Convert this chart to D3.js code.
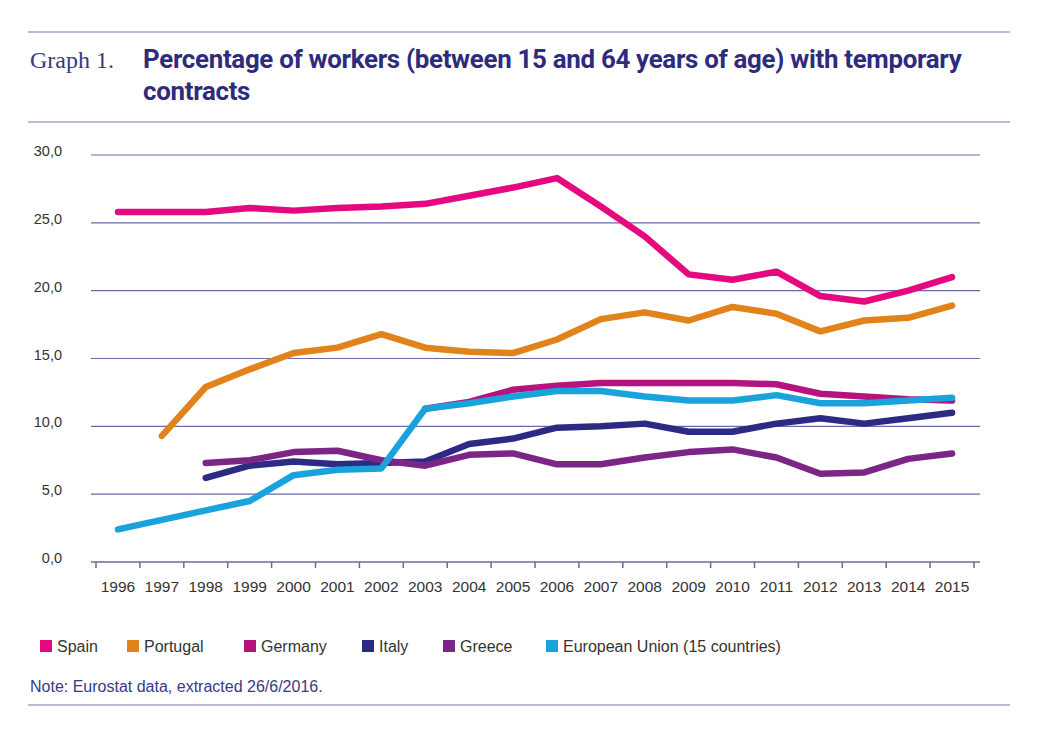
<!DOCTYPE html>
<html>
<head>
<meta charset="utf-8">
<script src="https://cdn.jsdelivr.net/npm/d3@7"></script>
<style>
  html, body { margin: 0; padding: 0; background: #fff; }
  svg { display: block; }
</style>
</head>
<body>
<svg id="chart" width="1039" height="733"></svg>
<script>
const years = ["1996","1997","1998","1999","2000","2001","2002","2003","2004","2005",
               "2006","2007","2008","2009","2010","2011","2012","2013","2014","2015"];
const yTicks = [0, 5, 10, 15, 20, 25, 30];

const spain    = [25.8, 25.8, 25.8, 26.1, 25.9, 26.1, 26.2, 26.4, 27.0, 27.6, 28.3, 26.2, 24.0, 21.2, 20.8, 21.4, 19.6, 19.2, 20.0, 21.0];
const portugal = [null, 9.3, 12.9, 14.2, 15.4, 15.8, 16.8, 15.8, 15.5, 15.4, 16.4, 17.9, 18.4, 17.8, 18.8, 18.3, 17.0, 17.8, 18.0, 18.9];
const germany  = [null, null, null, null, null, null, null, 11.3, 11.8, 12.7, 13.0, 13.2, 13.2, 13.2, 13.2, 13.1, 12.4, 12.2, 12.0, 11.9];
const italy    = [null, null, 6.2, 7.1, 7.4, 7.2, 7.3, 7.4, 8.7, 9.1, 9.9, 10.0, 10.2, 9.6, 9.6, 10.2, 10.6, 10.2, 10.6, 11.0];
const greece   = [null, null, 7.3, 7.5, 8.1, 8.2, 7.5, 7.1, 7.9, 8.0, 7.2, 7.2, 7.7, 8.1, 8.3, 7.7, 6.5, 6.6, 7.6, 8.0];
const eu15     = [2.4, 3.1, 3.8, 4.5, 6.4, 6.8, 6.9, 11.3, 11.7, 12.2, 12.6, 12.6, 12.2, 11.9, 11.9, 12.3, 11.7, 11.7, 11.9, 12.1];

const seriesNames  = ["Spain", "Portugal", "Germany", "Italy", "Greece", "European Union (15 countries)"];
const seriesValues = [spain, portugal, germany, italy, greece, eu15];
const seriesColors = ["#e4097f", "#e2821a", "#b5147f", "#2d2a84", "#7b2686", "#1aa2dc"];

const svg = d3.select("#chart");
const navy = "#2e2b7d";
const ruleColor = "#a7a5c8";
const gridColor = "#6b68a3";

// Header / footer rules
[32, 122, 705].forEach(yy => {
  svg.append("line").attr("x1", 28).attr("x2", 1010).attr("y1", yy).attr("y2", yy)
    .attr("stroke", ruleColor).attr("stroke-width", 1.5);
});

// Title
svg.append("text").attr("x", 30).attr("y", 68)
  .attr("font-family", "'Liberation Serif', 'DejaVu Serif', serif")
  .attr("font-size", 24).attr("fill", "#3a3888")
  .text("Graph 1.");

const t1 = svg.append("text").attr("x", 143).attr("y", 68)
  .attr("font-family", "Roboto, 'Liberation Sans', sans-serif")
  .attr("font-weight", 700).attr("font-size", 21).attr("fill", navy)
  .attr("letter-spacing", -0.3)
  .text("Percentage of workers (between 15 and 64 years of age) with temporary");
const t2 = svg.append("text").attr("x", 143).attr("y", 100)
  .attr("font-family", "Roboto, 'Liberation Sans', sans-serif")
  .attr("font-weight", 700).attr("font-size", 21).attr("fill", navy)
  .attr("letter-spacing", -0.3)
  .text("contracts");
const w1 = t1.node().getComputedTextLength();
const fs = 21 * 814 / w1;
t1.attr("font-size", fs);
t2.attr("font-size", fs);

// Scales
const x = d3.scaleBand().domain(years).range([96, 974]).padding(0);
const y = d3.scaleLinear().domain([0, 30]).range([562, 155]);

// Gridlines
svg.append("g").selectAll("line").data(yTicks.filter(d => d > 0)).join("line")
  .attr("x1", 91).attr("x2", 980)
  .attr("y1", d => y(d)).attr("y2", d => y(d))
  .attr("stroke", gridColor).attr("stroke-width", 1.2);

// Y labels
const fmt = d => d.toFixed(1).replace(".", ",");
svg.append("g").selectAll("text").data(yTicks).join("text")
  .attr("x", 62).attr("y", d => y(d) - 4)
  .attr("dy", "0.35em")
  .attr("text-anchor", "end")
  .attr("font-family", "'Liberation Sans', Arial, sans-serif")
  .attr("font-size", 14.5).attr("fill", "#333")
  .text(fmt);

// X axis line and ticks at band edges
svg.append("line").attr("x1", 91).attr("x2", 980).attr("y1", y(0)).attr("y2", y(0))
  .attr("stroke", gridColor).attr("stroke-width", 1.5);
const edges = years.map(d => x(d)).concat([x(years[years.length - 1]) + x.bandwidth()]);
svg.append("g").selectAll("line").data(edges).join("line")
  .attr("x1", d => d).attr("x2", d => d)
  .attr("y1", y(0)).attr("y2", y(0) + 6)
  .attr("stroke", gridColor).attr("stroke-width", 1.5);
svg.append("g").selectAll("text").data(years).join("text")
  .attr("x", d => x(d) + x.bandwidth() / 2).attr("y", 592)
  .attr("text-anchor", "middle")
  .attr("font-family", "'Liberation Sans', Arial, sans-serif")
  .attr("font-size", 15.5).attr("fill", "#333")
  .text(d => d);

// Lines
const line = d3.line()
  .defined(d => d.v !== null)
  .x(d => x(d.year) + x.bandwidth() / 2)
  .y(d => y(d.v));

seriesValues.forEach((vals, i) => {
  const data = years.map((yr, j) => ({ year: yr, v: vals[j] }));
  svg.append("path").datum(data)
    .attr("d", line)
    .attr("fill", "none")
    .attr("stroke", seriesColors[i])
    .attr("stroke-width", 6.5)
    .attr("stroke-linejoin", "round")
    .attr("stroke-linecap", "round");
});

// Legend
const legendX = [40, 127, 244, 362, 443, 546];
const lg = svg.append("g");
seriesNames.forEach((name, i) => {
  lg.append("rect").attr("x", legendX[i]).attr("y", 640).attr("width", 12).attr("height", 12)
    .attr("fill", seriesColors[i]);
  lg.append("text").attr("x", legendX[i] + 17).attr("y", 651.5)
    .attr("font-family", "'Liberation Sans', Arial, sans-serif")
    .attr("font-size", 16).attr("fill", "#333")
    .text(name);
});

// Note
svg.append("text").attr("x", 30).attr("y", 692)
  .attr("font-family", "'Liberation Sans', Arial, sans-serif")
  .attr("font-size", 16).attr("fill", "#3a3888")
  .text("Note: Eurostat data, extracted 26/6/2016.");
</script>
</body>
</html>
